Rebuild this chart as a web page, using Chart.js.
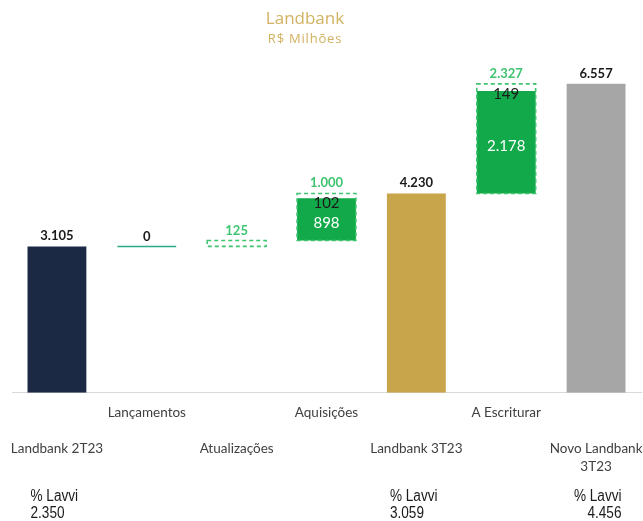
<!DOCTYPE html>
<html>
<head>
<meta charset="utf-8">
<script src="https://cdn.jsdelivr.net/npm/chart.js@4.4.1/dist/chart.umd.min.js"></script>
<style>
  body { margin: 0; background: #fff; }
  #chart { display: block; }
</style>
</head>
<body>
<canvas id="chart" width="643" height="521"></canvas>
<script>
// Categories (multi-line labels as arrays)
const categories = ['Landbank 2T23', 'Lançamentos', 'Atualizações', 'Aquisições', 'Landbank 3T23', 'A Escriturar', ['Novo Landbank', '3T23']];
// Totals (solid bars)
const totals = [3105, null, null, null, 4230, null, 6557];
// Variations (dashed boxes)
const deltas = [null, 0, 125, 1000, null, 2327, null];
// Green part of the variation and the remainder
const deltaSolid = [null, null, null, 898, null, 2178, null];
const deltaRest = [null, null, null, 102, null, 149, null];
// % Lavvi
const lavvi = [2350, null, null, null, 3059, null, 4456];

const totalColors = ['#1b2944', null, null, null, '#c8a44b', null, '#a6a6a6'];
const GREEN = '#12a94b';
const DASH_GREEN = '#3fc470';
const TEAL = '#2aa88c';

function fmt(v) {
  return String(v).replace(/\B(?=(\d{3})+(?!\d))/g, '.');
}

// running level for the waterfall
const bases = [];
let level = 0;
categories.forEach((c, i) => {
  if (totals[i] != null) {
    bases.push(0);
    level = totals[i];
  } else {
    bases.push(level);
    level += deltas[i];
  }
});

const outlineData = deltas.map((d, i) => d == null ? null : [bases[i], bases[i] + d]);
const greenData = deltaSolid.map((d, i) => d == null ? null : [bases[i], bases[i] + d]);

const waterfallPlugin = {
  id: 'waterfall',
  afterDatasetsDraw(chart) {
    const ctx = chart.ctx;
    const totalsMeta = chart.getDatasetMeta(0);
    const greenMeta = chart.getDatasetMeta(1);
    const outlineMeta = chart.getDatasetMeta(2);
    ctx.save();
    ctx.textAlign = 'center';
    ctx.textBaseline = 'alphabetic';

    // dashed boxes / zero line
    outlineMeta.data.forEach((el, i) => {
      if (deltas[i] == null) return;
      const { x, y, base, width } = el.getProps(['x', 'y', 'base', 'width'], true);
      const left = x - width / 2;
      if (deltas[i] === 0) {
        ctx.strokeStyle = TEAL;
        ctx.lineWidth = 1.5;
        ctx.setLineDash([]);
        ctx.beginPath();
        ctx.moveTo(left, y);
        ctx.lineTo(left + width, y);
        ctx.stroke();
        ctx.fillStyle = '#1a1a1a';
        ctx.font = 'bold 13px Lato';
        ctx.fillText(fmt(deltas[i]), x, y - 5);
        return;
      }
      ctx.strokeStyle = DASH_GREEN;
      ctx.lineWidth = 1.6;
      ctx.setLineDash([4, 3]);
      ctx.strokeRect(left, y, width, base - y);
      ctx.setLineDash([]);
      ctx.fillStyle = DASH_GREEN;
      ctx.font = 'bold 13px Lato';
      ctx.fillText(fmt(deltas[i]), x, y - 6);
      if (deltaRest[i] != null) {
        ctx.fillStyle = '#1a1a1a';
        ctx.font = '15px Lato';
        ctx.fillText(fmt(deltaRest[i]), x, y + 15);
      }
    });

    // values inside green parts
    greenMeta.data.forEach((el, i) => {
      if (deltaSolid[i] == null) return;
      const { x, y, base } = el.getProps(['x', 'y', 'base'], true);
      ctx.fillStyle = '#ffffff';
      ctx.font = '15px Lato';
      ctx.textBaseline = 'middle';
      ctx.fillText(fmt(deltaSolid[i]), x, (y + base) / 2 + 4);
      ctx.textBaseline = 'alphabetic';
    });

    // totals labels and % Lavvi
    totalsMeta.data.forEach((el, i) => {
      if (totals[i] == null) return;
      const { x, y, width } = el.getProps(['x', 'y', 'width'], true);
      ctx.fillStyle = '#1a1a1a';
      ctx.font = 'bold 13px Lato';
      ctx.textAlign = 'center';
      ctx.fillText(fmt(totals[i]), x, y - 6);
      if (lavvi[i] != null) {
        const last = i === categories.length - 1;
        ctx.save();
        ctx.font = "16px 'Liberation Sans'";
        if (last) {
          // last block is right aligned under the bar
          ctx.textAlign = 'right';
          ctx.translate(x + width / 2 - 4, 0);
        } else {
          ctx.textAlign = 'left';
          ctx.translate(x - width / 2 + 3, 0);
        }
        ctx.scale(0.85, 1);
        ctx.fillText('% Lavvi', 0, 501);
        ctx.fillText(fmt(lavvi[i]), 0, 518);
        ctx.restore();
      }
    });

    // title
    ctx.textAlign = 'center';
    ctx.fillStyle = '#d2b160';
    ctx.font = "17px 'Open Sans'";
    ctx.fillText('Landbank', 305, 24);
    ctx.font = "13px 'Open Sans'";
    ctx.letterSpacing = '0.8px';
    ctx.fillText('R$ Milhões', 305, 43);
    ctx.restore();
  }
};

new Chart(document.getElementById('chart'), {
  type: 'bar',
  data: {
    labels: categories,
    datasets: [
      { label: 'Totais', data: totals, backgroundColor: totalColors, grouped: false },
      { label: 'Variação', data: greenData, backgroundColor: GREEN, grouped: false },
      { label: 'Contorno', data: outlineData, backgroundColor: 'rgba(0,0,0,0)', grouped: false }
    ]
  },
  options: {
    responsive: false,
    animation: false,
    devicePixelRatio: 1,
    categoryPercentage: 1,
    barPercentage: 0.655,
    layout: { padding: { top: 63, left: 12, right: 2, bottom: 34 } },
    plugins: {
      legend: { display: false },
      tooltip: { enabled: false },
      title: { display: false }
    },
    scales: {
      x: {
        grid: { display: false, drawTicks: false },
        border: { display: true, color: '#d9d9d9' },
        afterFit(scale) {
          scale.paddingLeft = 0;
          scale.paddingRight = 0;
        },
        ticks: {
          autoSkip: false,
          maxRotation: 0,
          minRotation: 0,
          padding: 11,
          color: '#404040',
          font: { family: 'Lato', size: 13.5, lineHeight: 1.34 },
          callback: function(value, index) {
            const name = categories[index];
            const lines = Array.isArray(name) ? name : [name];
            return index % 2 === 0 ? ['', ''].concat(lines) : lines;
          }
        }
      },
      y: {
        display: false,
        min: 0,
        max: 7000
      }
    }
  },
  plugins: [waterfallPlugin]
});
</script>
</body>
</html>
